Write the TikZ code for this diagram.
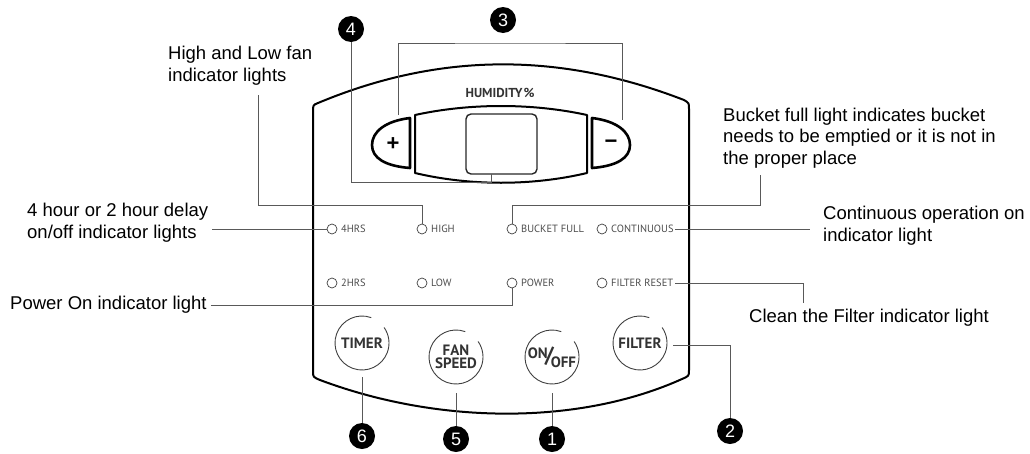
\documentclass[tikz,border=0pt]{standalone}
\usepackage{fontspec}
\setmainfont{Liberation Sans}
\newfontfamily\panelfont{PT Sans}
\usepackage{xcolor}
\usepackage{tikz}
\usetikzlibrary{positioning}

\begin{document}
\begin{tikzpicture}[x=1pt, y=-1pt,
    lead/.style={draw=black!65, line width=0.7pt},
    shell/.style={draw=black, line width=2pt, line join=round},
    led/.style={circle, draw=black!75, line width=0.7pt, inner sep=0pt, minimum size=10pt},
    tag/.style={font=\panelfont\fontsize{10.5}{11}\selectfont, text=black!70, inner sep=0pt, anchor=west},
    badge/.style={circle, fill=black, text=white, inner sep=0pt, minimum size=26pt, font=\fontsize{18}{18}\selectfont},
    note/.style={font=\fontsize{18.5}{21.7}\selectfont, align=left, inner sep=0pt, anchor=west},
    knob/.style={circle, minimum size=54pt, inner sep=0pt, align=center, text=black!80,
        font=\panelfont\bfseries\fontsize{15}{13}\selectfont}]
    \useasboundingbox (0,0) rectangle (1030,453);
    % panel outline
    \draw[shell] (313,112) -- (313,371) .. controls (313,377) .. (320,380)
        .. controls (440,425) and (580,425) .. (682,379) .. controls (689,376) .. (689,370)
        -- (689,109) .. controls (689,103) .. (684,100)
        .. controls (560,52) and (440,52) .. (318,103) .. controls (313,105) .. (313,112) -- cycle;
    \node[font=\panelfont\bfseries\fontsize{13}{13}\selectfont, text=black!80] (humidity) at (500,93) {HUMIDITY\kern1pt\%};
    % display
    \draw[shell] (415,115) .. controls (470,103) and (532,103) .. (587,115) -- (587,173)
        .. controls (532,186) and (470,186) .. (415,173) -- cycle;
    \node[draw=black!85, line width=1.4pt, rounded corners=5pt, minimum width=71pt, minimum height=60pt] (screen) at (501.5,144) {};
    \draw[shell, line width=2.6pt] (410,118) .. controls (385,121) and (372,132) .. (372,145)
        .. controls (372,158) and (385,166) .. (410,168) -- cycle;
    \draw[shell, line width=2.6pt] (592,118) .. controls (617,121) and (630,132) .. (630,145)
        .. controls (630,158) and (617,166) .. (592,168) -- cycle;
    \node[font=\bfseries\fontsize{22}{22}\selectfont] (plus) at (393,144) {+};
    \node[font=\bfseries\fontsize{22}{22}\selectfont] (minus) at (611,144) {−};
    \coordinate (plus-tip) at (398,115);
    \coordinate (minus-tip) at (622,120);
    \coordinate (bracket) at (510,43);
    \coordinate (screen-pin) at (491,174);
    % indicator lights
    \foreach \x/\n/\t in {332/hrsf/4HRS, 422/high/HIGH, 512/bucket/BUCKET FULL, 602/cont/CONTINUOUS}
    {
        \node[led] (led-\n) at (\x,229) {};
        \node[tag] (tag-\n) at (\x+9,229) {\t};
    }
    \foreach \x/\n/\t in {332/hrst/2HRS, 422/low/LOW, 512/power/POWER, 602/reset/FILTER RESET}
    {
        \node[led] (led-\n) at (\x,283) {};
        \node[tag] (tag-\n) at (\x+9,283) {\t};
    }
    % buttons
    \node[knob] (timer) at (362,343) {TIMER};
    \node[knob] (fan) at (456,357) {FAN\\SPEED};
    \node[knob] (onoff) at (552,357) {\raisebox{4pt}{ON}\kern-3pt{\fontsize{22}{22}\selectfont/}\kern-3pt\raisebox{-5pt}{OFF}};
    \node[knob] (filter) at (640,343) {FILTER};
    \foreach \b in {timer,fan,onoff,filter}
        \draw[black!75, line width=0.9pt] (\b.center) ++(70:27pt) arc[start angle=70, end angle=395, radius=27pt];
    % numbers
    \node[badge] (b3) at (503,20) {3};
    \node[badge] (b4) at (351,29) {4};
    \node[badge] (b6) at (362,436) {6};
    \node[badge] (b5) at (456,439) {5};
    \node[badge] (b1) at (552,439) {1};
    \node[badge] (b2) at (730,431) {2};
    % notes
    \node[note] (fan-note) at (168,66) {High and Low fan\\indicator lights};
    \node[note] (delay-note) at (27,223) {4 hour or 2 hour delay\\on/off indicator lights};
    \node[note] (power-note) at (10,305) {Power On indicator light};
    \node[note] (bucket-note) at (723,138) {Bucket full light indicates bucket\\needs to be emptied or it is not in\\the proper place};
    \node[note] (cont-note) at (823,226) {Continuous operation on\\indicator light};
    \node[note] (clean-note) at (749,318) {Clean the Filter indicator light};
    \coordinate (fan-pin) at (258,95);
    \coordinate (bucket-pin) at (760,175);
    \coordinate (clean-pin) at (803,303);
    % leaders
    \draw[lead] (plus-tip) |- (bracket) -| (minus-tip);
    \draw[lead] (b4) |- ++(140,153) -- (screen-pin);
    \draw[lead] (fan-pin) |- ++(164,110) -- (led-high);
    \draw[lead] ([xshift=4pt]delay-note.east |- led-hrsf) -- (led-hrsf);
    \draw[lead] ([xshift=4pt]power-note.east) -| (led-power);
    \draw[lead] (led-bucket) -- ++(0,-24) -| (bucket-pin);
    \draw[lead] ([xshift=1pt]tag-cont.east) -- ([xshift=-13pt]cont-note.west |- tag-cont.east);
    \draw[lead] ([xshift=2pt]tag-reset.east) -| (clean-pin);
    \draw[lead] (timer.south) ++(0,7) -- (b6);
    \draw[lead] (fan.south) ++(0,9) -- (b5);
    \draw[lead] (onoff.south) ++(0,9) -- (b1);
    \draw[lead] (filter.east) ++(6,2) -| (b2);
\end{tikzpicture}
\end{document}
